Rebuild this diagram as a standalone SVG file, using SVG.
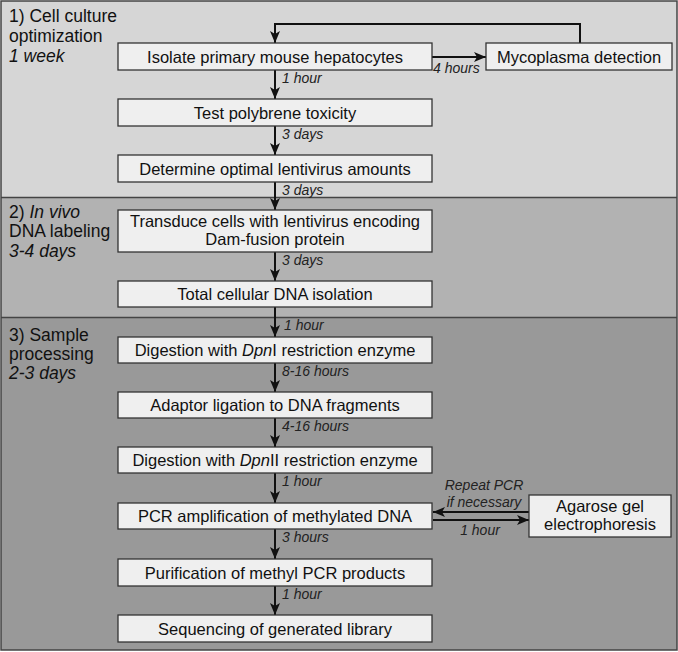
<svg xmlns="http://www.w3.org/2000/svg" width="678" height="652" viewBox="0 0 678 652">
<defs>
<marker id="ah" viewBox="0 0 12 10" refX="12" refY="5" markerWidth="12" markerHeight="10" markerUnits="userSpaceOnUse" orient="auto">
<path d="M0,0 L12,5 L0,10 L3,5 z" fill="#111"/>
</marker>
<style>
.box{fill:#efefef;stroke:#333;stroke-width:1.3}
.bt{font-family:"Liberation Sans",Arial,sans-serif;font-size:16.5px;fill:#111;text-anchor:middle}
.tt{font-family:"Liberation Sans",Arial,sans-serif;font-size:17.5px;fill:#111}
.ti{font-style:italic}
.lb{font-family:"Liberation Sans",Arial,sans-serif;font-size:14px;font-style:italic;fill:#222}
.ln{fill:none;stroke:#111;stroke-width:2}
.ar{fill:none;stroke:#111;stroke-width:2;marker-end:url(#ah)}
</style>
</defs>
<rect x="1" y="1" width="676" height="197" fill="#d6d6d6"/>
<rect x="1" y="198" width="676" height="120" fill="#b2b2b2"/>
<rect x="1" y="318" width="676" height="332" fill="#999999"/>
<g fill="none" stroke="#444" stroke-width="1.5">
<rect x="1" y="1" width="676" height="649"/>
<line x1="1" y1="197.5" x2="677" y2="197.5"/>
<line x1="1" y1="317.5" x2="677" y2="317.5"/>
</g>
<g id="titles">
<text class="tt" x="9" y="22">1) Cell culture</text>
<text class="tt" x="9" y="42">optimization</text>
<text class="tt ti" x="9" y="62">1 week</text>
<text class="tt" x="9" y="218">2) <tspan class="ti">In vivo</tspan></text>
<text class="tt" x="9" y="237">DNA labeling</text>
<text class="tt ti" x="9" y="257">3-4 days</text>
<text class="tt" x="9" y="341">3) Sample</text>
<text class="tt" x="9" y="360">processing</text>
<text class="tt ti" x="9" y="379">2-3 days</text>
</g>
<g id="connectors">
<path class="ar" d="M580,43 V24 H275 V43"/>
<line class="ar" x1="432" y1="57" x2="486" y2="57"/>
<line class="ar" x1="275" y1="70" x2="275" y2="99"/>
<line class="ar" x1="275" y1="126" x2="275" y2="155"/>
<line class="ar" x1="275" y1="182" x2="275" y2="210"/>
<line class="ar" x1="275" y1="252" x2="275" y2="281"/>
<line class="ar" x1="275" y1="307" x2="275" y2="337"/>
<line class="ar" x1="275" y1="363" x2="275" y2="392"/>
<line class="ar" x1="275" y1="418" x2="275" y2="447"/>
<line class="ar" x1="275" y1="473" x2="275" y2="503"/>
<line class="ar" x1="275" y1="529" x2="275" y2="559"/>
<line class="ar" x1="275" y1="586" x2="275" y2="615"/>
<line class="ar" x1="529" y1="512" x2="433" y2="512"/>
<line class="ar" x1="433" y1="520" x2="529" y2="520"/>
<text class="lb" x="433" y="73">4 hours</text>
<text class="lb" x="282" y="83">1 hour</text>
<text class="lb" x="282" y="139">3 days</text>
<text class="lb" x="282" y="195">3 days</text>
<text class="lb" x="282" y="265">3 days</text>
<text class="lb" x="284" y="330">1 hour</text>
<text class="lb" x="282" y="376">8-16 hours</text>
<text class="lb" x="282" y="431">4-16 hours</text>
<text class="lb" x="282" y="486">1 hour</text>
<text class="lb" x="282" y="542">3 hours</text>
<text class="lb" x="282" y="599">1 hour</text>
<text class="lb" x="484" y="490" text-anchor="middle">Repeat PCR</text>
<text class="lb" x="484" y="507" text-anchor="middle">if necessary</text>
<text class="lb" x="480" y="535" text-anchor="middle">1 hour</text>
</g>
<g id="n1"><rect class="box" x="118" y="43" width="314" height="27"/><text class="bt" x="275" y="62.5">Isolate primary mouse hepatocytes</text></g>
<g id="n_myco"><rect class="box" x="486" y="43" width="186" height="27"/><text class="bt" x="579" y="62.5">Mycoplasma detection</text></g>
<g id="n2"><rect class="box" x="118" y="99" width="314" height="27"/><text class="bt" x="275" y="118.5">Test polybrene toxicity</text></g>
<g id="n3"><rect class="box" x="118" y="155" width="314" height="27"/><text class="bt" x="275" y="174.5">Determine optimal lentivirus amounts</text></g>
<g id="n4"><rect class="box" x="118" y="210" width="314" height="42"/><text class="bt" x="275" y="227">Transduce cells with lentivirus encoding</text><text class="bt" x="275" y="245">Dam-fusion protein</text></g>
<g id="n5"><rect class="box" x="118" y="281" width="314" height="26"/><text class="bt" x="275" y="300">Total cellular DNA isolation</text></g>
<g id="n6"><rect class="box" x="118" y="337" width="314" height="26"/><text class="bt" x="275" y="356">Digestion with <tspan class="ti">Dpn</tspan>I restriction enzyme</text></g>
<g id="n7"><rect class="box" x="118" y="392" width="314" height="26"/><text class="bt" x="275" y="411">Adaptor ligation to DNA fragments</text></g>
<g id="n8"><rect class="box" x="118" y="447" width="314" height="26"/><text class="bt" x="275" y="466">Digestion with <tspan class="ti">Dpn</tspan>II restriction enzyme</text></g>
<g id="n9"><rect class="box" x="118" y="503" width="314" height="26"/><text class="bt" x="275" y="522">PCR amplification of methylated DNA</text></g>
<g id="n_gel"><rect class="box" x="529" y="495" width="142" height="42"/><text class="bt" x="600" y="512">Agarose gel</text><text class="bt" x="600" y="530">electrophoresis</text></g>
<g id="n10"><rect class="box" x="118" y="559" width="314" height="27"/><text class="bt" x="275" y="578.5">Purification of methyl PCR products</text></g>
<g id="n11"><rect class="box" x="118" y="615" width="314" height="27"/><text class="bt" x="275" y="634.5">Sequencing of generated library</text></g>
</svg>
